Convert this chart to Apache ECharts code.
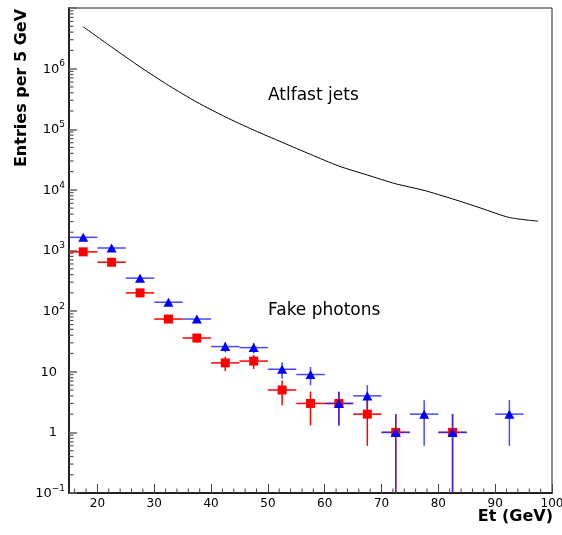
<!DOCTYPE html>
<html><head><meta charset="utf-8">
<script src="https://cdn.jsdelivr.net/npm/echarts@6/dist/echarts.min.js"></script>
<style>html,body{margin:0;padding:0;background:#fff}#c{width:562px;height:535px}</style>
</head><body><div id="c"></div>
<script>
// ---- data ----
const jetBinCenters = [17.5,22.5,27.5,32.5,37.5,42.5,47.5,52.5,57.5,62.5,67.5,72.5,77.5,82.5,87.5,92.5,97.5];
const jetEntries    = [4.9e6,2.27e6,1.07e6,5.3e5,2.8e5,1.6e5,9.7e4,6.1e4,3.85e4,2.47e4,1.76e4,1.26e4,9.8e3,7.1e3,5.0e3,3.5e3,3.05e3];

const squareX   = [17.5,22.5,27.5,32.5,37.5,42.5,47.5,52.5,57.5,62.5,67.5,72.5,82.5];
const squareY   = [950,640,200,74,36,14,15,5,3,3,2,1,1];
const squareErr = [31,25,14,8.6,6,3.7,3.9,2.2,1.7,1.7,1.4,1,1];

const triangleX   = [17.5,22.5,27.5,32.5,37.5,42.5,47.5,52.5,57.5,62.5,67.5,72.5,77.5,82.5,92.5];
const triangleY   = [1650,1100,350,140,74,26,25,11,9,3,4,1,2,1,2];
const triangleErr = [41,33,19,12,8.6,5.1,5,3.3,3,1.7,2,1,1.4,1,1.4];

const binHalfWidth = 2.5;

const xMin = 15, xMax = 100;
const yMin = 0.1, yMax = 1e7;
const xMajorTicks = [20,30,40,50,60,70,80,90,100];
const xMinorTicks = [16,18,22,24,26,28,32,34,36,38,42,44,46,48,52,54,56,58,62,64,66,68,72,74,76,78,82,84,86,88,92,94,96,98];
const yDecadeExponents = [-1,0,1,2,3,4,5,6];
const yMinorMultipliers = [2,3,4,5,6,7,8,9];

const yTitle = 'Entries per 5 GeV';
const xTitle = 'Et (GeV)';
const jetsLabel = 'Atlfast jets';
const photonsLabel = 'Fake photons';

// ---- build ----
const yMinorTicks = [];
yDecadeExponents.forEach(e => yMinorMultipliers.forEach(m => yMinorTicks.push(m * Math.pow(10, e))));

function yLabel(v) {
  const e = Math.round(Math.log10(v));
  if (yDecadeExponents.indexOf(e) < 0) return '';
  if (e === 0) return '{b|1}{pad|}';
  if (e === 1) return '{b|10}{pad|}';
  return '{b|10}{s|' + (e < 0 ? '\u2212' + (-e) : e) + '}';
}

function errRender(color) {
  return function (params, api) {
    const x = api.value(0), y = api.value(1), err = api.value(2);
    const lo = Math.max(y - err, yMin), hi = y + err;
    const h0 = api.coord([x - binHalfWidth, y]), h1 = api.coord([x + binHalfWidth, y]);
    const v0 = api.coord([x, lo]), v1 = api.coord([x, hi]);
    const st = { stroke: color, lineWidth: 1.5 };
    return { type: 'group', children: [
      { type: 'line', shape: { x1: h0[0], y1: h0[1], x2: h1[0], y2: h1[1] }, style: st },
      { type: 'line', shape: { x1: v0[0], y1: v0[1], x2: v1[0], y2: v1[1] }, style: st }
    ]};
  };
}

const FONT = "'DejaVu Sans', sans-serif";

const chart = echarts.init(document.getElementById('c'), null, { renderer: 'canvas' });
chart.setOption({
  animation: false,
  backgroundColor: '#fff',
  grid: { left: 69, right: 10, top: 8, bottom: 42, outerBoundsMode: 'none', containLabel: false,
    show: true, borderColor: '#222', borderWidth: 1, backgroundColor: 'transparent' },
  xAxis: {
    type: 'value', min: xMin, max: xMax, splitNumber: 8,
    axisLine: { show: true, lineStyle: { color: '#222', width: 2 } },
    axisTick: { show: true, inside: true, length: 9, lineStyle: { color: '#444', width: 1 } },
    axisLabel: { showMinLabel: false, margin: 5, color: '#000', fontFamily: FONT, fontSize: 12,
      formatter: v => (xMajorTicks.indexOf(Math.round(v)) >= 0 ? String(Math.round(v)) : '') },
    splitLine: { show: false }
  },
  yAxis: {
    type: 'log', logBase: 10, min: yMin, max: yMax,
    axisLine: { show: true, lineStyle: { color: '#222', width: 2 } },
    axisTick: { show: true, inside: true, length: 8, lineStyle: { color: '#666', width: 1.5 } },
    axisLabel: { margin: 4, color: '#000', fontFamily: FONT, formatter: yLabel,
      rich: {
        b: { fontFamily: FONT, fontSize: 13, color: '#000', verticalAlign: 'bottom', lineHeight: 14 },
        s: { fontFamily: FONT, fontSize: 9, color: '#000', verticalAlign: 'bottom', lineHeight: 10, padding: [0, 0, 7, 0] },
        pad: { width: 8 }
      } },
    splitLine: { show: false }
  },
  graphic: [
    { type: 'text', x: 22, y: 88, rotation: Math.PI / 2, silent: true,
      style: { text: yTitle, font: "bold 16px 'DejaVu Sans', sans-serif", fill: '#000', textAlign: 'center', textVerticalAlign: 'middle' } },
    { type: 'text', x: 553, y: 517, silent: true,
      style: { text: xTitle, font: "bold 16px 'DejaVu Sans', sans-serif", fill: '#000', textAlign: 'right', textVerticalAlign: 'middle' } },
    { type: 'text', x: 268, y: 96, silent: true,
      style: { text: jetsLabel, font: "17px 'DejaVu Sans', sans-serif", fill: '#000', textAlign: 'left', textVerticalAlign: 'middle' } },
    { type: 'text', x: 268, y: 311, silent: true,
      style: { text: photonsLabel, font: "17px 'DejaVu Sans', sans-serif", fill: '#000', textAlign: 'left', textVerticalAlign: 'middle' } }
  ],
  series: [
    { type: 'custom', name: 'yMinor', silent: true, clip: false,
      data: yMinorTicks.filter(v => v > yMin && v < yMax).map(v => [xMin, v]),
      renderItem: (p, api) => { const pt = api.coord([xMin, api.value(1)]);
        return { type: 'line', shape: { x1: pt[0], y1: pt[1], x2: pt[0] + 4.5, y2: pt[1] }, style: { stroke: '#555', lineWidth: 1.2 } }; } },
    { type: 'custom', name: 'xMinor', silent: true, clip: false,
      data: xMinorTicks.map(v => [v, yMin]),
      renderItem: (p, api) => { const pt = api.coord([api.value(0), yMin]);
        return { type: 'line', shape: { x1: pt[0], y1: pt[1], x2: pt[0], y2: pt[1] - 4.5 }, style: { stroke: '#444', lineWidth: 1 } }; } },
    { type: 'line', name: 'jets', data: jetBinCenters.map((x, i) => [x, jetEntries[i]]),
      smooth: 0.25, showSymbol: false, symbol: 'none', lineStyle: { color: '#000', width: 1 }, silent: true },
    { type: 'custom', name: 'squareErr', silent: true, clip: true,
      data: squareX.map((x, i) => [x, squareY[i], squareErr[i]]),
      renderItem: errRender('#ff0000') },
    { type: 'scatter', name: 'squares', data: squareX.map((x, i) => [x, squareY[i]]),
      symbol: 'rect', symbolSize: 9, itemStyle: { color: '#ff0000', opacity: 1 }, silent: true },
    { type: 'custom', name: 'triangleErr', silent: true, clip: true,
      data: triangleX.map((x, i) => [x, triangleY[i], triangleErr[i]]),
      renderItem: errRender('rgba(40,40,255,0.85)') },
    { type: 'scatter', name: 'triangles', data: triangleX.map((x, i) => [x, triangleY[i]]),
      symbol: 'triangle', symbolSize: [10, 9], itemStyle: { color: '#0000ff', opacity: 1 }, silent: true }
  ]
});
</script>
</body></html>
